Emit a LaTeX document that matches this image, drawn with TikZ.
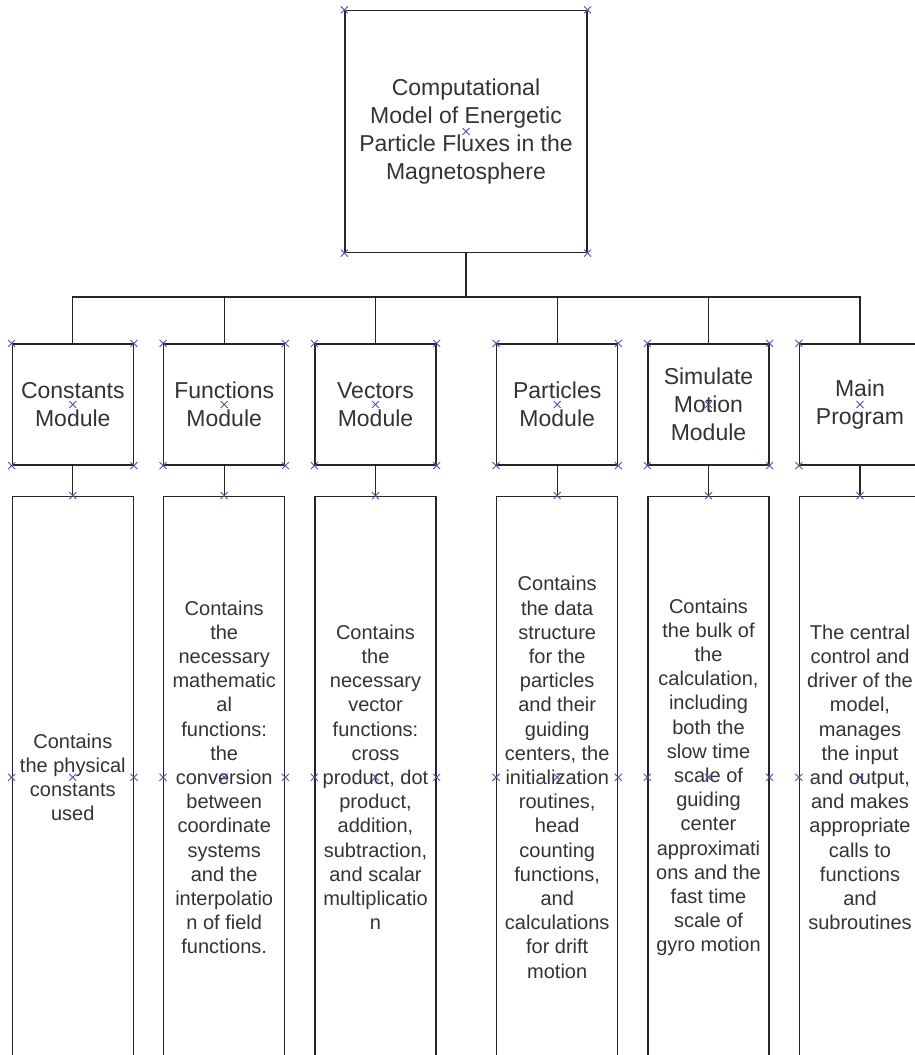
\documentclass[tikz,border=0pt]{standalone}
\usepackage{fontspec}
\setmainfont{Liberation Sans}
\usetikzlibrary{positioning}

% small selection cross at a point
\newcommand{\hmark}[1]{\draw[handle] (#1) +(-3.5,-3.5) -- +(3.5,3.5) +(-3.5,3.5) -- +(3.5,-3.5);}

\begin{document}
\begin{tikzpicture}[
    x=1pt, y=-1pt,
    box/.style={rectangle, draw=black!85, line width=1.3pt, align=center, text=black!80, inner sep=0pt},
    titlebox/.style={box, minimum width=242pt, minimum height=242pt, font=\fontsize{23}{28.2}\selectfont},
    module/.style={box, minimum width=121pt, minimum height=121pt, font=\fontsize{23}{28}\selectfont},
    desc/.style={box, minimum width=121pt, minimum height=562pt, font=\fontsize{20}{24.2}\selectfont},
    conn/.style={draw=black!85, line width=1.3pt},
    handle/.style={draw={rgb,255:red,80;green,80;blue,175}, line width=0.9pt},
    node distance=30pt
]
    \useasboundingbox (0,0) rectangle (914,1055);

    % top box
    \node[titlebox] (top) at (466,131.5) {Computational\\Model of Energetic\\Particle Fluxes in the\\Magnetosphere};

    % module row
    \node[module] (m1) at (72.8,404.5) {Constants\\Module};
    \node[module] (m2) at (224.2,404.5) {Functions\\Module};
    \node[module] (m3) at (375.5,404.5) {Vectors\\Module};
    \node[module] (m4) at (557.2,404.5) {Particles\\Module};
    \node[module] (m5) at (708.5,404.5) {Simulate\\Motion\\Module};
    \node[module] (m6) at (860,404.5) {Main\\Program};

    % descriptions
    \node[desc, below=of m1] (d1) {Contains\\the physical\\constants\\used};
    \node[desc, below=of m2] (d2) {Contains\\the\\necessary\\mathematic\\al\\functions:\\the\\conversion\\between\\coordinate\\systems\\and the\\interpolatio\\n of field\\functions.};
    \node[desc, below=of m3] (d3) {Contains\\the\\necessary\\vector\\functions:\\cross\\product, dot\\product,\\addition,\\subtraction,\\and scalar\\multiplicatio\\n};
    \node[desc, below=of m4] (d4) {Contains\\the data\\structure\\for the\\particles\\and their\\guiding\\centers, the\\initialization\\routines,\\head\\counting\\functions,\\and\\calculations\\for drift\\motion};
    \node[desc, below=of m5] (d5) {Contains\\the bulk of\\the\\calculation,\\including\\both the\\slow time\\scale of\\guiding\\center\\approximati\\ons and the\\fast time\\scale of\\gyro motion};
    \node[desc, below=of m6] (d6) {The central\\control and\\driver of the\\model,\\manages\\the input\\and output,\\and makes\\appropriate\\calls to\\functions\\and\\subroutines};

    % connectors
    \coordinate (bus) at (466,297);
    \draw[conn] (top) -- (bus);
    \draw[conn] (m1.north) -- (m1.north |- bus) -- (m6.north |- bus) -- (m6.north);
    \foreach \i in {2,...,5} {
        \draw[conn] (m\i.north) -- (m\i.north |- bus);
    }
    \foreach \i in {1,...,6} {
        \draw[conn] (m\i) -- (d\i);
    }

    % selection handles
    \foreach \a in {north west, north east, south west, south east, center} {
        \hmark{top.\a}
    }
    \foreach \i in {1,...,6} {
        \foreach \a in {north west, north east, south west, south east, center} {
            \hmark{m\i.\a}
        }
        \foreach \a in {north, west, east, center, south} {
            \hmark{d\i.\a}
        }
    }
\end{tikzpicture}
\end{document}
